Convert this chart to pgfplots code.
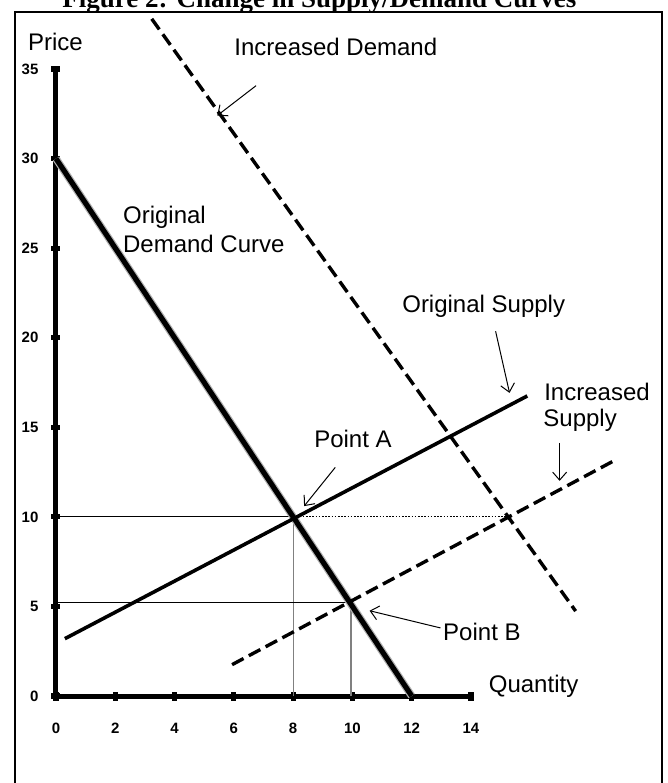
\documentclass[border=0pt]{standalone}
\usepackage{fontspec}
\setmainfont{Liberation Sans}
\newfontfamily\titlefont{Liberation Serif}
\usepackage{pgfplots}
\pgfplotsset{compat=1.18}
\usetikzlibrary{arrows.meta}
\tikzset{
  lbl/.style={anchor=base west, inner sep=0pt, font=\fontsize{12}{14}\selectfont},
  arr/.style={line width=0.5pt, -{Straight Barb[length=4pt,width=7pt]}},
}
\begin{document}
\begin{tikzpicture}
\begin{axis}[
  at={(0,0)}, anchor=south west,
  scale only axis, width=207.5pt, height=313.5pt,
  xmin=0, xmax=14, ymin=0, ymax=35,
  axis lines=left,
  axis line style={-, line width=2.5pt},
  xtick={0,2,...,14}, ytick={0,5,...,35},
  tick align=center,
  major tick length=4.5pt,
  tick style={line width=2.6pt, black},
  ticklabel style={font=\bfseries\fontsize{7.5}{8}\selectfont},
  /pgf/number format/assume math mode=true,
  xticklabel style={yshift=-7pt, text height=6pt, text depth=0pt},
  yticklabel style={xshift=-3pt},
  clip=false,
  every axis plot/.append style={no marks},
]
% reference lines
\addplot[black, line width=0.5pt] coordinates {(0,10) (8,10)};
\addplot[black, line width=0.4pt, dash pattern=on 0.8pt off 0.8pt] coordinates {(8,10) (15.25,10)};
\addplot[gray, line width=0.6pt] coordinates {(8,0) (8,10)};
\addplot[black, line width=0.5pt] coordinates {(0,5.2) (9.95,5.2)};
\addplot[gray, line width=0.6pt] coordinates {(9.95,0) (9.95,5.2)};
% curves
\addplot[gray!60, line width=3.8pt] coordinates {(0,30) (12,0)};
\addplot[black, line width=2.6pt] coordinates {(0,30) (12,0)};
\addplot[black, line width=1.7pt, dash pattern=on 6.5pt off 3pt] coordinates {(3.23,37.8) (17.53,4.74)};
\addplot[black, line width=1.8pt] coordinates {(0.3,3.2) (15.9,16.75)};
\addplot[black, line width=1.7pt, dash pattern=on 6.5pt off 3pt] coordinates {(5.94,1.75) (18.9,13.2)};
% arrows
\draw[arr] (axis cs:6.75,34.07) -- (axis cs:5.44,32.4);
\draw[arr] (axis cs:14.83,20.36) -- (axis cs:15.30,16.92);
\draw[arr] (axis cs:16.99,14.13) -- (axis cs:16.99,12.01);
\draw[arr] (axis cs:9.42,12.76) -- (axis cs:8.37,10.6);
\draw[arr] (axis cs:12.97,3.8) -- (axis cs:10.58,4.76);
% labels
\node[lbl] at (axis cs:-0.953,36.06) {Price};
\node[lbl] at (axis cs:6.005,35.78) {Increased Demand};
\node[lbl] at (axis cs:2.25,26.35) {Original};
\node[lbl] at (axis cs:2.25,24.77) {Demand Curve};
\node[lbl] at (axis cs:11.67,21.38) {Original Supply};
\node[lbl] at (axis cs:16.46,16.51) {Increased};
\node[lbl] at (axis cs:16.43,15.02) {Supply};
\node[lbl] at (axis cs:8.70,13.89) {Point A};
\node[lbl] at (axis cs:13.05,3.10) {Point B};
\node[lbl] at (axis cs:14.59,0.17) {Quantity};
\end{axis}
\node[anchor=base west, inner sep=0pt, font=\titlefont\bfseries\fontsize{13.5}{16}\selectfont] at (3pt,344pt) {Figure 2: Change in Supply/Demand Curves};
\draw[line width=1pt] (-20.5pt,-60pt) -- (-20.5pt,342pt) -- (303pt,342pt) -- (303pt,-60pt);
\pgfresetboundingbox
\path[use as bounding box] (-28pt,-43.5pt) rectangle (306pt,348pt);
\end{tikzpicture}
\end{document}
